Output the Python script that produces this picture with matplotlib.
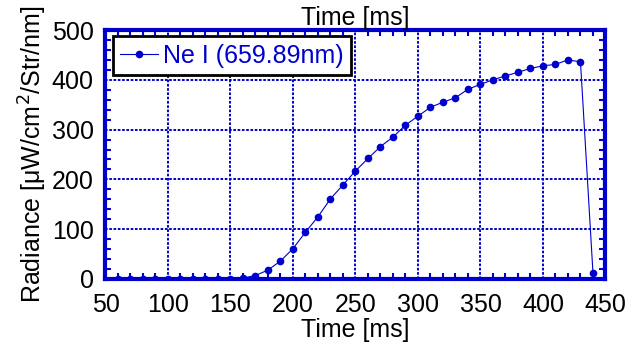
import numpy as np
import matplotlib.pyplot as plt
from matplotlib.ticker import MultipleLocator

plt.rcParams['font.family'] = ['Liberation Sans', 'DejaVu Sans']

# Ne I line radiance vs time
time_ms = [60, 70, 80, 90, 100, 110, 120, 130, 140, 150,
           160, 170, 180, 190, 200, 210, 220, 230, 240, 250,
           260, 270, 280, 290, 300, 310, 320, 330, 340, 350,
           360, 370, 380, 390, 400, 410, 420, 430, 440]
radiance = [0, 0, 0, 0, 0, 0, 0, 0, 0, 0,
            2, 7, 18, 36, 61, 94, 125, 161, 189, 217,
            242, 266, 285, 309, 327, 345, 355, 364, 381, 391,
            400, 408, 415, 423, 428, 431, 440, 436, 12]
series_label = "Ne I (659.89nm)"

blue = "#0000cc"
fs = 18

fig = plt.figure(figsize=(6.29, 3.43), dpi=100)
ax = fig.add_axes([0.1677, 0.1866, 0.7949, 0.7259])

ax.plot(time_ms, radiance, color=blue, lw=0.8, marker="o", ms=4.5,
        label=series_label)

ax.set_xlim(50, 450)
ax.set_ylim(0, 500)
ax.xaxis.set_major_locator(MultipleLocator(50))
ax.xaxis.set_minor_locator(MultipleLocator(10))
ax.yaxis.set_major_locator(MultipleLocator(100))
ax.yaxis.set_minor_locator(MultipleLocator(20))

# Grid in dotted blue
ax.grid(True, which="major", color=blue, linestyle=(0, (1.35, 0.85)), lw=1.4)

# Thick blue frame with ticks on all sides
for s in ax.spines.values():
    s.set_color(blue)
    s.set_linewidth(3)
ax.tick_params(which="both", direction="in", top=True, right=True,
               color=blue, labelsize=fs, labelcolor="black")
ax.tick_params(which="major", length=0)
ax.tick_params(axis="x", which="major", pad=10)
ax.tick_params(axis="y", which="major", pad=8.5)
ax.tick_params(which="minor", length=4, width=1.5)

ax.set_xlabel("Time [ms]", fontsize=fs, labelpad=0.5)
ax.set_ylabel("Radiance [\u03bcW/cm$^2$/Str/nm]", fontsize=fs, labelpad=2)
ax.set_title("Time [ms]", fontsize=fs, pad=1)

leg = ax.legend(loc="upper left", fontsize=fs, fancybox=False,
                framealpha=1, edgecolor="black", borderpad=0.3,
                handlelength=1.5, handletextpad=0.2,
                bbox_to_anchor=(0.015, 0.975), borderaxespad=0.0)
leg.get_frame().set_linewidth(2)
for t in leg.get_texts():
    t.set_color(blue)

fig.savefig("out.png", dpi=100)
